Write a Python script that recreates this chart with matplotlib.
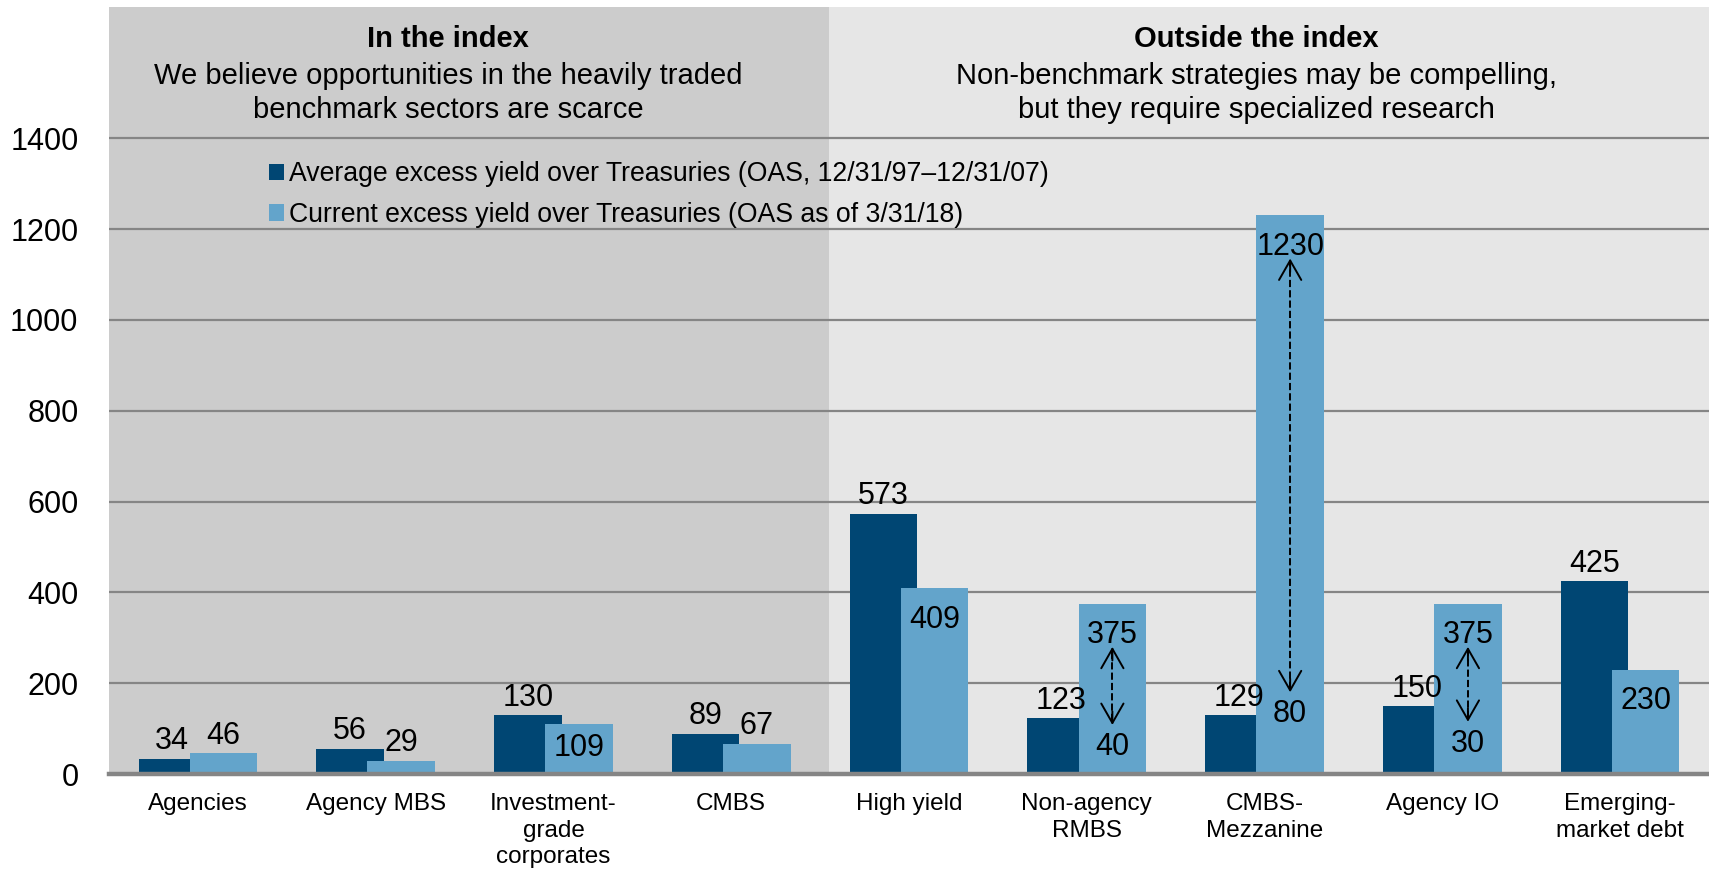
import numpy as np
import matplotlib.pyplot as plt

plt.rcParams['font.family'] = ['Liberation Sans', 'DejaVu Sans']

# Donnees
categories = ["Agencies", "Agency MBS", "Investment-\ngrade\ncorporates", "CMBS",
              "High yield", "Non-agency\nRMBS", "CMBS-\nMezzanine", "Agency IO",
              "Emerging-\nmarket debt"]
avg_oas = [34, 56, 130, 89, 573, 123, 129, 150, 425]
cur_oas = [46, 29, 109, 67, 409, 375, 1230, 375, 230]
cur_low = [None, None, None, None, None, 40, 80, 30, None]
yticks = [0, 200, 400, 600, 800, 1000, 1200, 1400]

dark = '#004673'
light = '#63a4cb'
grid_col = '#858585'

W, H = 1709, 869
fig = plt.figure(figsize=(W / 100, H / 100), dpi=100)
ax = fig.add_axes([109 / W, 95 / H, 1 - 109 / W, (774 - 6.5) / H])

x = np.arange(len(categories))
bw = 0.38
off = 0.144
split = 3.55

ax.set_xlim(-0.5, len(categories) - 0.5)
ax.set_ylim(0, 1690)
ax.axvspan(-0.5, split, color='#cccccc', zorder=0, lw=0)
ax.axvspan(split, len(categories) - 0.5, color='#e6e6e6', zorder=0, lw=0)

for yv in yticks[1:]:
    ax.axhline(yv, color=grid_col, lw=1.6, zorder=1)

ax.bar(x - off, avg_oas, bw, color=dark, zorder=2,
       label='Average excess yield over Treasuries (OAS, 12/31/97\u201312/31/07)')
ax.bar(x + off, cur_oas, bw, color=light, zorder=3,
       label='Current excess yield over Treasuries (OAS as of 3/31/18)')

fs_lab = 22
# etiquettes des barres foncees
for xi, v in zip(x, avg_oas):
    ax.annotate(str(v), (xi - off, v), xytext=(0, 12.5), textcoords='offset points',
                ha='center', va='center', fontsize=fs_lab, zorder=5)

# etiquettes des barres claires
inside = [False, False, True, False, True, True, True, True, True]
for i, (xi, v, ins) in enumerate(zip(x, cur_oas, inside)):
    if ins:
        dy = -17 if i == 2 else -22.5
    else:
        dy = 12.5
    ax.annotate(str(v), (xi + off, v), xytext=(0, dy), textcoords='offset points',
                ha='center', va='center', fontsize=fs_lab, zorder=5)

# fourchettes (bas de fourchette + fleches)
low_label_y = {5: 60, 6: 132, 7: 67}
for i, lo in enumerate(cur_low):
    if lo is None:
        continue
    xc = x[i] + off
    yl = low_label_y[i]
    ax.text(xc, yl, str(lo), ha='center', va='center', fontsize=fs_lab, zorder=5)
    y_bot = yl + 48
    y_top = cur_oas[i] - 62 - 33
    ax.plot([xc, xc], [y_bot + 8, y_top - 8], color='k', ls='--', lw=1.4, zorder=5)
    for a, b in [(y_top - 30, y_top), (y_bot + 30, y_bot)]:
        ax.annotate('', xy=(xc, b), xytext=(xc, a),
                    arrowprops=dict(arrowstyle='->,head_length=0.7,head_width=0.4',
                                    color='k', lw=1.4, mutation_scale=20,
                                    shrinkA=0, shrinkB=0), zorder=5)

ax.set_xticks(x)
ax.set_xticklabels(categories, fontsize=17.5, linespacing=1.24)
ax.set_yticks(yticks)
ax.set_yticklabels([str(t) for t in yticks], fontsize=22)
ax.tick_params(axis='both', length=0)
ax.tick_params(axis='y', pad=22)
ax.tick_params(axis='x', pad=14)

for s in ['top', 'right', 'left']:
    ax.spines[s].set_visible(False)
ax.spines['bottom'].set_color(grid_col)
ax.spines['bottom'].set_linewidth(3.2)
ax.spines['bottom'].set_zorder(4)

leg = ax.legend(loc='upper left', frameon=False, fontsize=19.2, handlelength=0.55,
                handleheight=0.55, handletextpad=0.2, labelspacing=0.56,
                borderaxespad=0, borderpad=0)
leg.set_bbox_to_anchor((269 / W, 1 - 161 / H), transform=fig.transFigure)

# titres des deux zones
fs_head = 21
fig.text(448 / W, 1 - 39 / H, 'In the index', ha='center', va='center',
         fontsize=fs_head, fontweight='bold')
fig.text(448 / W, 1 - 93 / H, 'We believe opportunities in the heavily traded\nbenchmark sectors are scarce',
         ha='center', va='center', fontsize=fs_head, linespacing=1.29)
fig.text(1256 / W, 1 - 39 / H, 'Outside the index', ha='center', va='center',
         fontsize=fs_head, fontweight='bold')
fig.text(1256 / W, 1 - 93 / H, 'Non-benchmark strategies may be compelling,\nbut they require specialized research',
         ha='center', va='center', fontsize=fs_head, linespacing=1.29)

fig.savefig('out.png', dpi=100)
